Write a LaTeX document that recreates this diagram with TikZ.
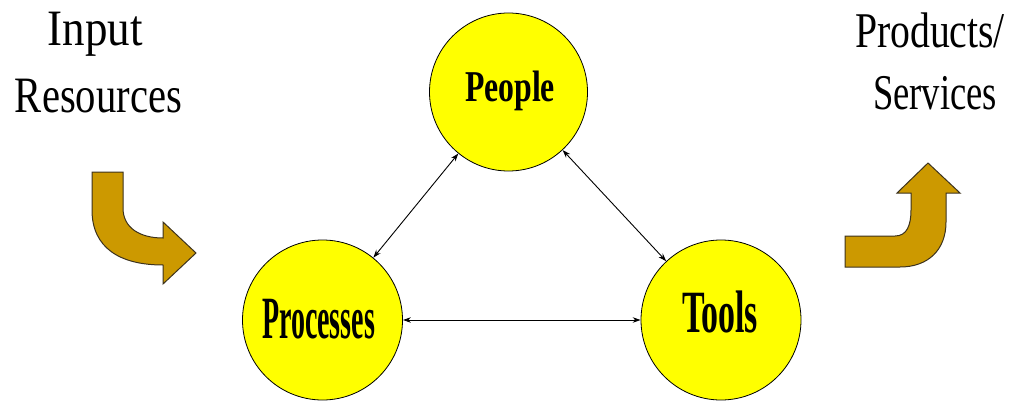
\documentclass[tikz,border=0pt]{standalone}
\usepackage{graphicx}
\usepackage{fontspec}
\newfontfamily\capfont{Liberation Serif}
\usetikzlibrary{arrows.meta}

% squeeze a word horizontally to a given width, keeping its height
\newcommand{\squeezeto}[2]{\resizebox{#1}{\height}{#2}}

\definecolor{disc}{RGB}{255,255,0}
\definecolor{flowgold}{RGB}{204,153,0}
\definecolor{flowedge}{RGB}{60,50,30}

\tikzset{
  disc/.style={circle, draw=black, line width=0.8pt, fill=disc,
    minimum size=160pt, inner sep=0pt},
  capt/.style={anchor=base, inner sep=0pt, text=black},
  link/.style={{Stealth[length=8pt,width=5.5pt]}-{Stealth[length=8pt,width=5.5pt]},
    line width=0.9pt, black},
  flow/.style={fill=flowgold, draw=flowedge, line width=1pt, line join=miter}
}

\begin{document}
\begin{tikzpicture}[x=1pt,y=-1pt]
  \useasboundingbox (0,0) rectangle (1016,401);

  % the three circles
  \node[disc, minimum size=158pt] (people) at (508.5,92) {};
  \node[disc] (processes) at (322.5,320) {};
  \node[disc] (tools) at (721,320) {};

  % circle captions
  \node[capt] (tpeople) at (510,102)
    {\squeezeto{90pt}{\capfont\bfseries\fontsize{44}{44}\selectfont People}};
  \node[capt] (tprocesses) at (318.5,338)
    {\squeezeto{113pt}{\capfont\bfseries\fontsize{60}{60}\selectfont Processes}};
  \node[capt] (ttools) at (720,332)
    {\squeezeto{76pt}{\capfont\bfseries\fontsize{60}{60}\selectfont Tools}};

  % side captions
  \node[capt] (input) at (95.5,46)
    {\squeezeto{95pt}{\capfont\fontsize{51}{51}\selectfont Input}};
  \node[capt] (resources) at (98.5,113)
    {\squeezeto{167pt}{\capfont\fontsize{51}{51}\selectfont Resources}};
  \node[capt] (products) at (930,48)
    {\squeezeto{150pt}{\capfont\fontsize{50}{50}\selectfont Products/}};
  \node[capt] (services) at (935,110)
    {\squeezeto{124pt}{\capfont\fontsize{50}{50}\selectfont Services}};

  % two-way links between the circles
  \draw[link] (people) -- (processes);
  \draw[link] (people) -- (tools);
  \draw[link] (processes) -- (tools);

  % incoming bent arrow
  \filldraw[flow] (92,172) -- (123,172) -- (123,208)
    .. controls (123,228) and (140,238) .. (163,238)
    -- (163,222) -- (196,253) -- (163,284) -- (163,265)
    .. controls (120,265) and (92,248) .. (92,210) -- cycle;

  % outgoing bent arrow
  \filldraw[flow] (845,236) -- (895,236)
    .. controls (907,236) and (911,225) .. (911,210)
    -- (911,193) -- (897,193) -- (928,163) -- (960,193) -- (946,193)
    -- (946,222) .. controls (946,250) and (928,267) .. (900,267)
    -- (845,267) -- cycle;
\end{tikzpicture}
\end{document}
